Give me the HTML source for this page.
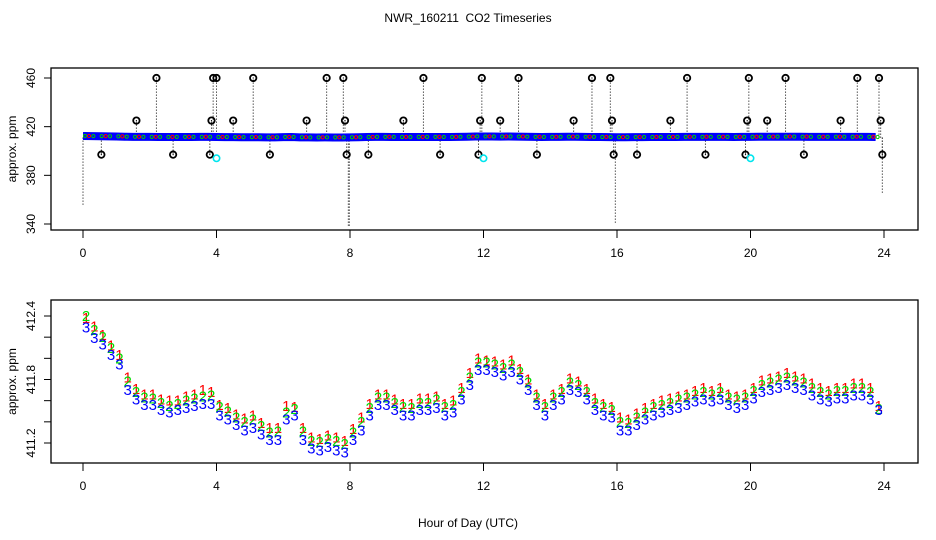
<!DOCTYPE html>
<html><head><meta charset="utf-8">
<style>
body{margin:0;background:#fff;}
svg{display:block;font-family:"Liberation Sans",sans-serif;}
</style></head>
<body>
<svg id="chart" width="936" height="540" viewBox="0 0 936 540">
<text x="468" y="22" text-anchor="middle" font-size="12" style="white-space:pre">NWR_160211  CO2 Timeseries</text>
<g id="topPanel"></g>
<g id="botPanel"></g>
<text x="468" y="527" text-anchor="middle" font-size="12">Hour of Day (UTC)</text>
</svg>
<script>
// ---- data ----
const hours = [0,0.25,0.5,0.75,1,1.25,1.5,1.75,2,2.25,2.5,2.75,3,3.25,3.5,3.75,4,4.25,4.5,4.75,5,5.25,5.5,5.75,6,6.25,6.5,6.75,7,7.25,7.5,7.75,8,8.25,8.5,8.75,9,9.25,9.5,9.75,10,10.25,10.5,10.75,11,11.25,11.5,11.75,12,12.25,12.5,12.75,13,13.25,13.5,13.75,14,14.25,14.5,14.75,15,15.25,15.5,15.75,16,16.25,16.5,16.75,17,17.25,17.5,17.75,18,18.25,18.5,18.75,19,19.25,19.5,19.75,20,20.25,20.5,20.75,21,21.25,21.5,21.75,22,22.25,22.5,22.75,23,23.25,23.5,23.75];
const series3 = [412.29,412.19,412.13,412.03,411.94,411.70,411.61,411.56,411.56,411.51,411.49,411.51,411.53,411.55,411.57,411.57,411.46,411.42,411.37,411.32,411.34,411.28,411.23,411.23,411.42,411.46,411.23,411.15,411.13,411.16,411.13,411.11,411.23,411.32,411.46,411.56,411.56,411.51,411.46,411.46,411.51,411.51,411.53,411.46,411.49,411.61,411.75,411.89,411.89,411.87,411.84,411.87,411.80,411.70,411.56,411.46,411.56,411.61,411.70,411.68,411.61,411.51,411.46,411.44,411.32,411.32,411.37,411.42,411.46,411.49,411.51,411.53,411.56,411.59,411.61,411.59,411.61,411.56,411.53,411.56,411.62,411.68,411.70,411.72,411.75,411.72,411.70,411.65,411.61,411.59,411.62,411.62,411.65,411.65,411.61,411.51];
const series2 = [412.40,412.27,412.20,412.10,412.00,411.78,411.68,411.63,411.62,411.58,411.55,411.57,411.60,411.62,411.64,411.65,411.54,411.50,411.44,411.40,411.42,411.36,411.30,411.31,411.49,411.52,411.31,411.22,411.21,411.24,411.22,411.19,411.30,411.40,411.53,411.63,411.63,411.58,411.54,411.53,411.58,411.58,411.61,411.54,411.56,411.68,411.82,411.96,411.96,411.94,411.91,411.94,411.87,411.77,411.63,411.54,411.63,411.68,411.77,411.75,411.68,411.58,411.54,411.51,411.40,411.39,411.44,411.49,411.54,411.56,411.58,411.61,411.63,411.66,411.68,411.66,411.68,411.63,411.61,411.63,411.69,411.75,411.77,411.80,411.82,411.79,411.77,411.72,411.68,411.66,411.69,411.69,411.72,411.72,411.68,411.52];
const series1 = [412.38,412.30,412.22,412.12,412.03,411.82,411.71,411.66,411.66,411.61,411.60,411.60,411.64,411.66,411.70,411.68,411.56,411.53,411.47,411.43,411.46,411.39,411.34,411.34,411.55,411.54,411.34,411.25,411.24,411.27,411.25,411.22,411.33,411.44,411.57,411.66,411.66,411.61,411.57,411.57,411.62,411.62,411.64,411.57,411.60,411.72,411.86,412.00,411.98,411.97,411.94,411.98,411.90,411.80,411.66,411.57,411.66,411.71,411.81,411.78,411.71,411.62,411.57,411.54,411.44,411.42,411.48,411.53,411.57,411.60,411.62,411.64,411.66,411.69,411.72,411.69,411.72,411.66,411.64,411.66,411.72,411.79,411.81,411.83,411.86,411.83,411.81,411.76,411.72,411.69,411.72,411.72,411.76,411.76,411.72,411.55];
const spikeHours = [2.2,3.9,4.0,5.1,7.3,7.8,10.2,11.95,13.05,15.25,15.8,18.1,19.95,21.05,23.2,23.85,1.6,3.85,4.5,6.7,7.85,9.6,11.9,12.5,14.7,15.85,17.6,19.9,20.5,22.7,23.9,0.55,2.7,3.8,5.6,7.9,8.55,10.7,11.85,13.6,15.9,16.6,18.65,19.85,21.6,23.95];
const spikeValues = [460,460,460,460,460,460,460,460,460,460,460,460,460,460,460,460,425,425,425,425,425,425,425,425,425,425,425,425,425,425,425,397,397,397,397,397,397,397,397,397,397,397,397,397,397,397];
const cyanHours = [4.0,12.0,20.0];
const cyanValues = [394,394,394];
const dropHours = [0.0,7.95,7.98,15.95,23.95];
const dropValues = [355,338,338,340,365];
const xTicks = [0,4,8,12,16,20,24];
const topTicks = [340,380,420,460];
const botTicks = [411.2,411.4,411.6,411.8,412.0,412.2,412.4];
const botTickLabels = ["411.2","","","411.8","","","412.4"];

// ---- scales ----
const NS="http://www.w3.org/2000/svg";
const x = h => 83 + h*(884-83)/24;
const yT = v => 78 + (460-v)*(224-78)/120;
const yB = v => 316 + (412.4-v)*(443-316)/1.2;
function mk(tag, attrs, parent){const e=document.createElementNS(NS,tag);for(const k in attrs)e.setAttribute(k,attrs[k]);parent.appendChild(e);return e;}

function panel(g, t0, b0, ticks, labels, yf, ylab){
  const box=mk('rect',{x:51,y:t0,width:867,height:b0-t0,fill:'none',stroke:'#000','stroke-width':1.3},g);
  
  
  xTicks.forEach(t=>{
    const l=mk('line',{x1:x(t),x2:x(t),y1:b0,y2:b0+8,stroke:'#000'},g);
    
    
    const tx=mk('text',{x:x(t),y:b0+27,'text-anchor':'middle','font-size':12},g);
    tx.textContent=t;
    
    
  });
  ticks.forEach((t,i)=>{
    const l=mk('line',{x1:44,x2:51,y1:yf(t),y2:yf(t),stroke:'#000'},g);
    
    
    if(labels[i]){
      const tx=mk('text',{x:0,y:0,'text-anchor':'middle','font-size':12,transform:`translate(35,${yf(t)}) rotate(-90)`},g);
      tx.textContent=labels[i];
      
      
    }
  });
  const yl=mk('text',{x:0,y:0,'text-anchor':'middle','font-size':12,transform:`translate(16,${(t0+b0)/2}) rotate(-90)`},g);
  yl.textContent=ylab;
  
  
}

const topG=document.getElementById('topPanel'), botG=document.getElementById('botPanel');
panel(topG,68,230,topTicks,topTicks.map(String),yT,'approx. ppm');
panel(botG,300,463,botTicks,botTickLabels,yB,'approx. ppm');

// top: drop lines
dropHours.forEach((h,i)=>{
  const l=mk('line',{x1:x(h),x2:x(h),y1:yT(411),y2:yT(dropValues[i]),stroke:'#000','stroke-dasharray':'1,2'},topG);
  
  
});
spikeHours.forEach((h,i)=>{
  const l=mk('line',{x1:x(h),x2:x(h),y1:yT(411),y2:yT(spikeValues[i]),stroke:'#000','stroke-dasharray':'1,2'},topG);
  
  
});
// top baseline band
const band=mk('polyline',{points:hours.map((h,i)=>x(h)+','+yT(series3[i])).join(' '),fill:'none',stroke:'#0000ff','stroke-width':8},topG);


[[series2,'#00cc00'],[series1,'#ff0000']].forEach(([s,c],k)=>{
  hours.forEach((h,i)=>{
    if(k>0 && i%2) return;
    const p=mk('circle',{cx:x(h)+(k*4)+2,cy:yT(s[i]),r:1.6,fill:'none',stroke:c,'stroke-width':1},topG);
    
    
  });
});
spikeHours.forEach((h,i)=>{
  const c=mk('circle',{cx:x(h),cy:yT(spikeValues[i]),r:3.2,fill:'none',stroke:'#000','stroke-width':1.8},topG);
  
  
  const d=mk('circle',{cx:x(h),cy:yT(spikeValues[i]),r:0.6,fill:'#000'},topG);
  
  
});
cyanHours.forEach((h,i)=>{
  const c=mk('circle',{cx:x(h),cy:yT(cyanValues[i]),r:3.2,fill:'none',stroke:'#00e5ee','stroke-width':1.6},topG);
  
  
});

// bottom: numbered points
[[series1,'#ff0000','1'],[series2,'#00dd00','2'],[series3,'#0000ff','3']].forEach(([s,c,lab])=>{
  hours.forEach((h,i)=>{
    const t=mk('text',{x:x(h)+3,y:yB(s[i])+5,'text-anchor':'middle','font-size':15,fill:c},botG);
    t.textContent=lab;
    
    
  });
});
</script>
</body></html>
